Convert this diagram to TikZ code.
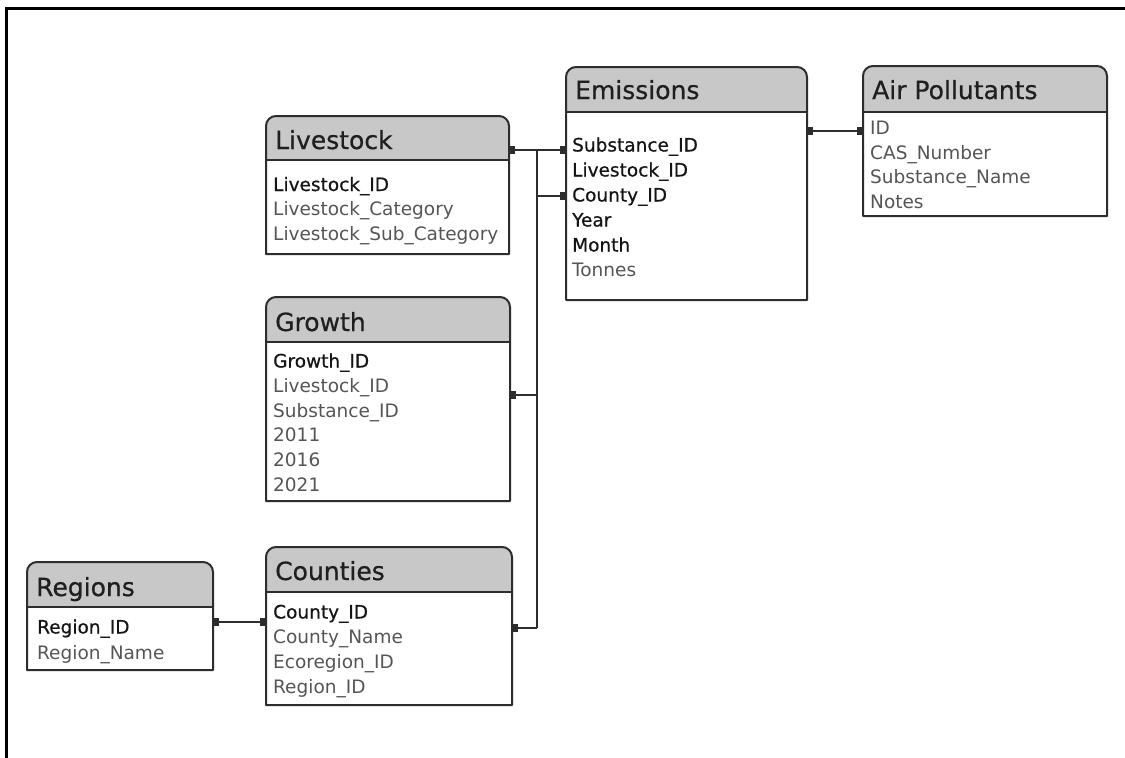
\documentclass[tikz,border=0pt]{standalone}
\usepackage{fontspec}
\setmainfont{DejaVu Sans}
\newfontfamily\keyface{DejaVu Sans}[FakeBold=0.6]
\usetikzlibrary{arrows.meta}

\definecolor{edge}{RGB}{45,45,45}
\definecolor{hdr}{RGB}{200,200,200}
\definecolor{keytxt}{RGB}{20,20,20}
\definecolor{fldtxt}{RGB}{85,85,85}

\tikzset{
  tblnode/.style={rectangle, inner sep=0pt, outer sep=0pt, draw=none},
  boxline/.style={draw=edge, line width=2pt, line join=round},
  sepline/.style={draw=edge, line width=2.4pt},
  tbltitle/.style={anchor=base west, inner sep=0pt, text=black!88, font=\keyface\fontsize{25}{28}\selectfont},
  keyfld/.style={anchor=base west, inner sep=0pt, text=keytxt, font=\keyface\fontsize{18.5}{22}\selectfont},
  fld/.style={anchor=base west, inner sep=0pt, text=fldtxt, font=\fontsize{18.5}{22}\selectfont},
  link/.style={draw=edge, line width=1.6pt},
  bothsq/.style={{Square[length=6pt,width=8pt]}-{Square[length=6pt,width=8pt]}},
  endsq/.style={-{Square[length=6pt,width=8pt]}},
}

% table: name, left, top, right, header bottom, bottom, title, title baseline
\newcommand\ertable[8]{%
  \fill[white] (#2,#5) rectangle (#4,#6);
  \fill[hdr] (#2,#5) -- (#2,#3+10) arc(180:270:10) -- (#4-10,#3) arc(270:360:10) -- (#4,#5) -- cycle;
  \draw[boxline] (#2,#6) -- (#2,#3+10) arc(180:270:10) -- (#4-10,#3) arc(270:360:10) -- (#4,#6) -- cycle;
  \draw[sepline] (#2,#5) -- (#4,#5);
  \node[tblnode, minimum width={(#4-#2)*1pt}, minimum height={(#6-#3)*1pt}] (#1) at ({(#2+#4)/2},{(#3+#6)/2}) {};
  \node[tbltitle] (#1-title) at (#2+9,#8) {#7};
}

\begin{document}
\begin{tikzpicture}[x=1pt, y=-1pt]
\useasboundingbox (0,0) rectangle (1125,758);
\fill[white] (0,0) rectangle (1125,758);

% page frame
\draw[line width=2.6pt, line join=miter] (6.5,758) -- (6.5,8.5) -- (1125,8.5);

% tables
\ertable{liv}{266}{116}{509}{160}{254}{Livestock}{149}
\node[keyfld] (liv-1) at (273,191) {Livestock\_ID};
\node[fld] (liv-2) at (273,215.5) {Livestock\_Category};
\node[fld] (liv-3) at (273,240) {Livestock\_Sub\_Category};

\ertable{emis}{566}{67}{807}{112}{300}{Emissions}{99}
\node[keyfld] (emis-1) at (572,151.5) {Substance\_ID};
\node[keyfld] (emis-2) at (572,176.5) {Livestock\_ID};
\node[keyfld] (emis-3) at (572,201.5) {County\_ID};
\node[keyfld] (emis-4) at (572,226.5) {Year};
\node[keyfld] (emis-5) at (572,251.5) {Month};
\node[fld] (emis-6) at (572,276.5) {Tonnes};

\ertable{air}{863}{66}{1107}{112}{216}{Air Pollutants}{99}
\node[fld] (air-1) at (870,134.5) {ID};
\node[fld] (air-2) at (870,159) {CAS\_Number};
\node[fld] (air-3) at (870,183.5) {Substance\_Name};
\node[fld] (air-4) at (870,208) {Notes};

\ertable{grow}{266}{297}{510}{342}{501}{Growth}{331}
\node[keyfld] (grow-1) at (273,367.5) {Growth\_ID};
\node[fld] (grow-2) at (273,392.3) {Livestock\_ID};
\node[fld] (grow-3) at (273,417.1) {Substance\_ID};
\node[fld] (grow-4) at (273,441.9) {2011};
\node[fld] (grow-5) at (273,466.7) {2016};
\node[fld] (grow-6) at (273,491.5) {2021};

\ertable{reg}{27}{562}{213}{607}{670}{Regions}{596}
\node[keyfld] (reg-1) at (37,633.5) {Region\_ID};
\node[fld] (reg-2) at (37,659) {Region\_Name};

\ertable{cty}{266}{547}{512}{592}{705}{Counties}{580}
\node[keyfld] (cty-1) at (273,618.5) {County\_ID};
\node[fld] (cty-2) at (273,643.5) {County\_Name};
\node[fld] (cty-3) at (273,668.5) {Ecoregion\_ID};
\node[fld] (cty-4) at (273,693.5) {Region\_ID};

% connector levels
\coordinate (yLS) at (0,150);
\coordinate (yAP) at (0,131);
\coordinate (yCO) at (0,196);
\coordinate (yGR) at (0,395);
\coordinate (yCT) at (0,628);
\coordinate (yRG) at (0,622);
\coordinate (trunkTop) at (537,150);
\coordinate (trunkBot) at (537,628);

% relationships
\draw[link, bothsq] (liv.east |- yLS) -- (emis.west |- yLS);
\draw[link] (trunkTop) -- (trunkBot);
\draw[link, endsq] (trunkTop |- yCO) -- (emis.west |- yCO);
\draw[link, endsq] (trunkTop |- yGR) -- (grow.east |- yGR);
\draw[link, endsq] (trunkBot) -- (cty.east |- yCT);
\draw[link, bothsq] (emis.east |- yAP) -- (air.west |- yAP);
\draw[link, bothsq] (reg.east |- yRG) -- (cty.west |- yRG);
\end{tikzpicture}
\end{document}
